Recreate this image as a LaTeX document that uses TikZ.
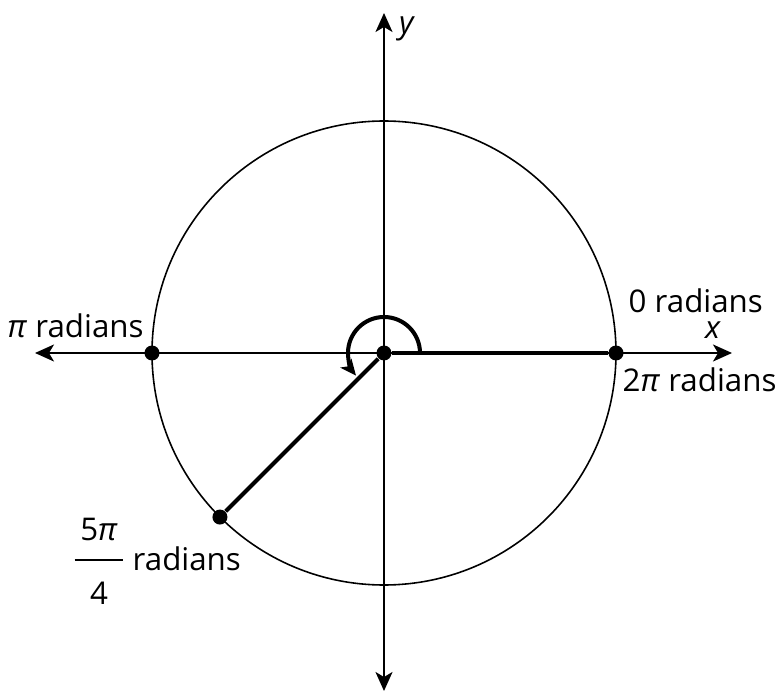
\documentclass[tikz,border=0pt]{standalone}
\usepackage{fontspec}
\setmainfont{Open Sans}
\usetikzlibrary{arrows.meta}
\tikzset{
  lbl/.style={inner sep=0pt,font=\fontsize{8.9}{10.5}\selectfont},
  dot/.style={circle,fill=black,inner sep=0pt,minimum size=0.15cm},
  axis/.style={line width=0.55pt,{Stealth[length=0.19cm,width=0.17cm,inset=0.05cm]}-{Stealth[length=0.19cm,width=0.17cm,inset=0.05cm]}},
}
\begin{document}
\begin{tikzpicture}
  \useasboundingbox (-3.84,-3.40) rectangle (3.93,3.53);
  % axes
  \coordinate (xl) at (-3.49,0);
  \coordinate (xr) at (3.48,0);
  \coordinate (yb) at (0,-3.38);
  \coordinate (yt) at (0,3.40);
  \draw[axis] (xl) -- (xr);
  \draw[axis] (yb) -- (yt);
  \draw[line width=0.45pt] (0,0) circle (2.32);
  % points on the circle
  \node[dot] (O) at (0,0) {};
  \node[dot] (P0) at (0:2.32) {};
  \node[dot] (Ppi) at (180:2.32) {};
  \node[dot] (P5) at (225:2.32) {};
  \draw[line width=1.15pt] (O) -- (P0);
  \draw[line width=1.15pt] (O) -- (P5);
  % the angle
  \draw[line width=1.15pt,-{Stealth[length=0.16cm,width=0.14cm,inset=0.04cm]}] (0.36,0) arc (0:219:0.36);
  % labels
  \node[lbl,anchor=base] (ylab) at (0.23,3.19) {\textit{y}};
  \node[lbl,anchor=base] (xlab) at (3.29,0.14) {\textit{x}};
  \node[lbl,anchor=base west] (zero) at (2.44,0.40) {0 radians};
  \node[lbl,anchor=base west] (twopi) at (2.38,-0.39) {2\textit{π} radians};
  \node[lbl,anchor=base west] (pi) at (-3.77,0.15) {\textit{π} radians};
  \node[lbl] (frac) at (-2.85,-2.07) {\renewcommand\arraystretch{1.7}\begin{tabular}{@{\hspace{1.6pt}}c@{\hspace{1.6pt}}}5\textit{π}\\\hline 4\end{tabular}};
  \node[lbl,anchor=base west] (rad) at (-2.52,-2.17) {radians};
\end{tikzpicture}
\end{document}
